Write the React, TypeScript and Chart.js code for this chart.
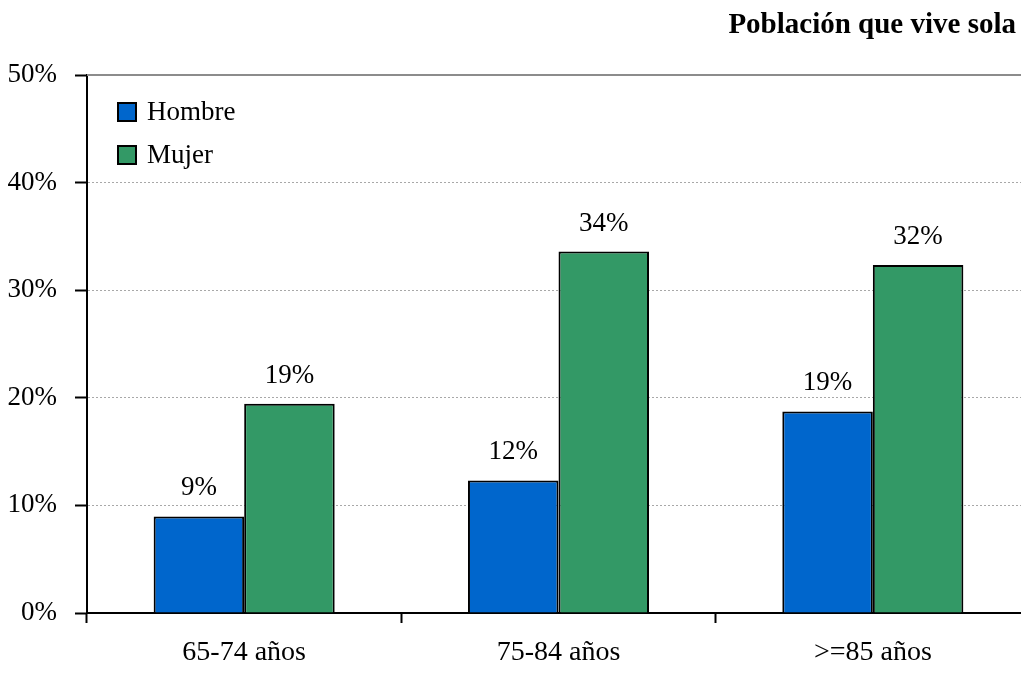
import React, { useEffect, useRef } from "react";
import { Chart, registerables } from "chart.js";

Chart.register(...registerables);

const categories = ["65-74 años", "75-84 años", ">=85 años"];
const seriesNames = ["Hombre", "Mujer"];
const hombre = [8.97, 12.32, 18.73];
const mujer = [19.44, 33.59, 32.35];
const yTicks = [0, 10, 20, 30, 40, 50];
const title = "Población que vive sola";

const FONT = "'Liberation Serif', 'Times New Roman', serif";
const colors = ["#0066CC", "#339966"];

const overlayPlugin = {
  id: "overlay",
  beforeDatasetsDraw(chart: any) {
    const { ctx, chartArea } = chart;
    ctx.save();
    ctx.strokeStyle = "#8c8c8c";
    ctx.lineWidth = 2;
    ctx.beginPath();
    ctx.moveTo(chartArea.left, chartArea.top);
    ctx.lineTo(chartArea.right, chartArea.top);
    ctx.moveTo(chartArea.right, chartArea.top);
    ctx.lineTo(chartArea.right, chartArea.bottom);
    ctx.stroke();
    ctx.restore();
  },
  afterDatasetsDraw(chart: any) {
    const { ctx, chartArea } = chart;
    ctx.save();
    // value labels
    ctx.font = `27px ${FONT}`;
    ctx.fillStyle = "#000";
    ctx.textAlign = "center";
    ctx.textBaseline = "alphabetic";
    chart.data.datasets.forEach((ds: any, di: number) => {
      const meta = chart.getDatasetMeta(di);
      meta.data.forEach((el: any, i: number) => {
        ctx.fillText(Math.round(ds.data[i]) + "%", el.x, el.y - 21);
      });
    });
    // legend
    chart.data.datasets.forEach((ds: any, di: number) => {
      const bx = chartArea.left + 31;
      const by = chartArea.top + 28 + di * 43;
      ctx.fillStyle = ds.backgroundColor;
      ctx.fillRect(bx, by, 18, 18);
      ctx.strokeStyle = "#000";
      ctx.lineWidth = 2;
      ctx.strokeRect(bx, by, 18, 18);
      ctx.fillStyle = "#000";
      ctx.textAlign = "left";
      ctx.textBaseline = "middle";
      ctx.font = `27px ${FONT}`;
      ctx.fillText(ds.label, bx + 29, by + 10);
    });
    // title
    ctx.font = `bold 29px ${FONT}`;
    ctx.textAlign = "right";
    ctx.textBaseline = "alphabetic";
    ctx.fillStyle = "#000";
    ctx.fillText(title, 1016, 33);
    ctx.restore();
  },
};

export default function App() {
  const ref = useRef<HTMLCanvasElement>(null);
  useEffect(() => {
    document.documentElement.style.overflow = "hidden";
    document.body.style.margin = "0";
    document.body.style.overflow = "hidden";
    const chart = new Chart(ref.current as HTMLCanvasElement, {
      type: "bar",
      data: {
        labels: categories,
        datasets: [
          { label: seriesNames[0], data: hombre, backgroundColor: colors[0], borderColor: "#000", borderWidth: 2 },
          { label: seriesNames[1], data: mujer, backgroundColor: colors[1], borderColor: "#000", borderWidth: 2 },
        ],
      },
      options: {
        responsive: false,
        animation: false,
        devicePixelRatio: 1,
        layout: { padding: { top: 75, right: 10, left: 0, bottom: 0 } },
        datasets: { bar: { categoryPercentage: 0.576, barPercentage: 1 } },
        plugins: { legend: { display: false }, title: { display: false }, tooltip: { enabled: false } },
        scales: {
          x: {
            afterFit: (s: any) => { s.height = 61; },
            grid: { display: true, drawOnChartArea: false, offset: true, tickLength: 10, tickColor: "#000", tickWidth: 2 },
            border: { display: true, color: "#000", width: 2 },
            ticks: { color: "#000", font: { family: FONT, size: 28 }, padding: 13, maxRotation: 0 },
          },
          y: {
            min: 0,
            max: 50,
            afterFit: (s: any) => { s.width = 87; },
            afterBuildTicks: (s: any) => { s.ticks = yTicks.map((v) => ({ value: v })); },
            grid: {
              color: (c: any) => (c.tick && (c.tick.value === 0 || c.tick.value === 50) ? "rgba(0,0,0,0)" : "#a8a8a8"),
              lineWidth: 1,
              tickLength: 12,
              tickColor: "#000",
              tickWidth: 2,
              tickBorderDash: [],
            },
            border: { display: true, color: "#000", width: 2, dash: [2, 2] },
            ticks: {
              color: "#000",
              font: { family: FONT, size: 27 },
              padding: 18,
              callback: (v: any) => v + "%",
            },
          },
        },
      },
      plugins: [overlayPlugin],
    });
    return () => chart.destroy();
  }, []);
  return (
    <div style={{ position: "absolute", left: 0, top: 0, width: 1040, height: 674 }}>
      <canvas ref={ref} width={1040} height={674} />
    </div>
  );
}
